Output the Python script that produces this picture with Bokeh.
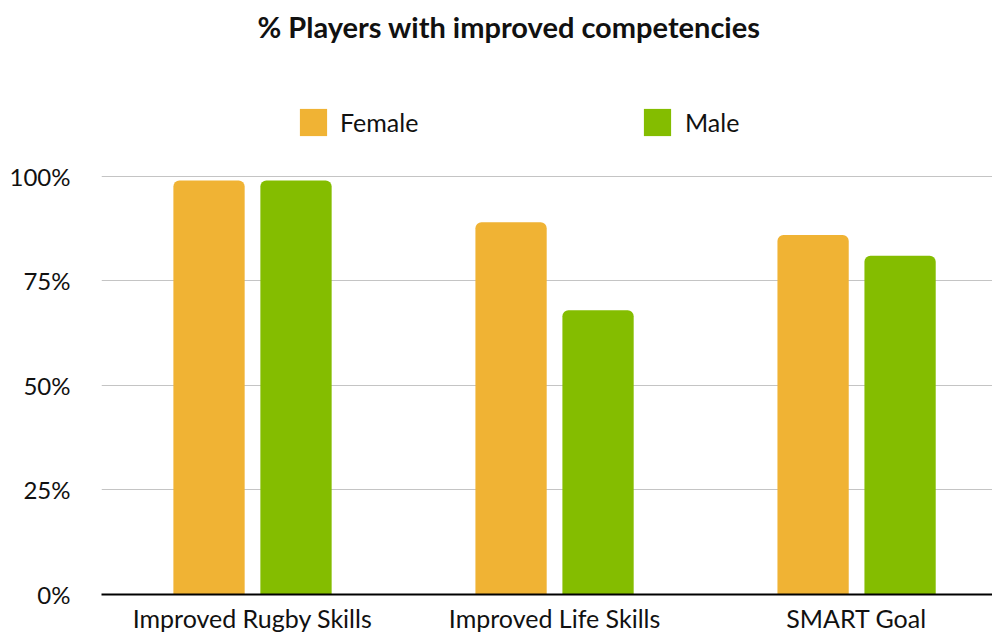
from bokeh.plotting import figure
from bokeh.models import Range1d, FixedTicker, Legend, LegendItem, Title
from bokeh.embed import file_html
from bokeh.resources import INLINE

categories = ["Improved Rugby Skills", "Improved Life Skills", "SMART Goal"]
female = [99, 89, 86]
male = [99, 68, 81]
y_ticks = [0, 25, 50, 75, 100]
y_tick_labels = ["0%", "25%", "50%", "75%", "100%"]
series_names = ["Female", "Male"]
colors = ["#F0B334", "#84BD00"]

FONT = "Lato"
FS = "25px"

p = figure(width=992, height=635, output_backend="svg", toolbar_location=None,
           x_range=Range1d(-0.500, 2.450), y_range=Range1d(0, 130.1),
           min_border_left=101, min_border_right=0, min_border_top=50, min_border_bottom=30)
p.outline_line_color = None

p.title = Title(text="% Players with improved competencies", align="left", offset=156,
                text_font=FONT, text_font_size="29px", text_font_style="bold",
                text_color="#111111", standoff=13)

xs = list(range(len(categories)))
off = 0.144
w = 0.236
rf = p.vbar(x=[x - off for x in xs], top=female, width=w, bottom=0,
            fill_color=colors[0], line_color=None, border_radius=(6, 6, 0, 0))
rm = p.vbar(x=[x + off for x in xs], top=male, width=w, bottom=0,
            fill_color=colors[1], line_color=None, border_radius=(6, 6, 0, 0))

p.xaxis.ticker = FixedTicker(ticks=xs)
p.xaxis.major_label_overrides = {i: c for i, c in enumerate(categories)}
p.xaxis.major_tick_line_color = None
p.xaxis.minor_tick_line_color = None
p.xaxis.major_tick_out = 0
p.xaxis.axis_line_color = "#000000"
p.xaxis.axis_line_width = 2
p.xaxis.major_label_text_font = FONT
p.xaxis.major_label_text_font_size = FS
p.xaxis.major_label_text_color = "#111111"
p.xaxis.major_label_standoff = 8

p.yaxis.ticker = FixedTicker(ticks=y_ticks)
p.yaxis.major_label_overrides = {t: l for t, l in zip(y_ticks, y_tick_labels)}
p.yaxis.major_tick_line_color = None
p.yaxis.minor_tick_line_color = None
p.yaxis.major_tick_out = 0
p.yaxis.axis_line_color = None
p.yaxis.major_label_text_font = FONT
p.yaxis.major_label_text_font_size = "24px"
p.yaxis.major_label_text_color = "#111111"
p.yaxis.major_label_standoff = 31

p.xgrid.grid_line_color = None
p.ygrid.ticker = FixedTicker(ticks=y_ticks[1:])
p.ygrid.grid_line_color = "#C4C4C4"
p.ygrid.grid_line_width = 1

def make_legend(name, renderer, x, y, standoff):
    lg = Legend(items=[LegendItem(label=name, renderers=[renderer])],
                location=(x, y), orientation="horizontal",
                border_line_color=None, background_fill_alpha=0,
                padding=0, margin=0, spacing=0,
                glyph_width=34, glyph_height=34, label_standoff=standoff,
                label_text_font=FONT, label_text_font_size=FS,
                label_text_color="#111111", label_height=34)
    p.add_layout(lg, "center")

make_legend(series_names[0], rf, 195, 455, 10)
make_legend(series_names[1], rm, 539, 455, 11)

open("out.html", "w").write(file_html(p, INLINE))
